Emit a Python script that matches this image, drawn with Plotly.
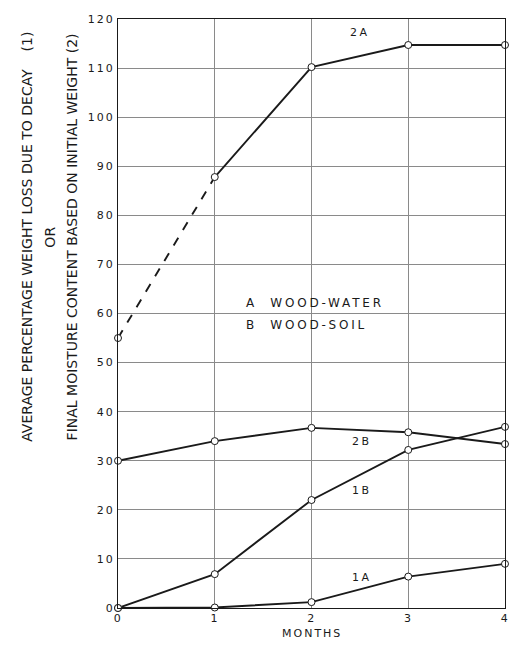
import plotly.graph_objects as go

# Months of exposure
months = [0, 1, 2, 3, 4]

# Curve 1: average percentage weight loss due to decay
loss_A = [0.0, 0.1, 1.2, 6.4, 9.0]      # wood-water
loss_B = [0.0, 6.9, 22.0, 32.2, 36.9]   # wood-soil

# Curve 2: final moisture content based on initial weight
moist_A = [55.0, 87.8, 110.2, 114.7, 114.7]  # wood-water
moist_B = [30.0, 34.0, 36.7, 35.8, 33.4]     # wood-soil

# Curve labels: (text, month, value)
curve_labels = [("2A", 2.5, 117.3), ("2B", 2.52, 33.9), ("1B", 2.52, 24.0), ("1A", 2.52, 6.3)]
legend_lines = ["A  WOOD-WATER", "B  WOOD-SOIL"]
y_ticks = list(range(0, 121, 10))
y_tick_labels = [str(v) for v in y_ticks]
x_tick_labels = [str(m) for m in months]

FONT = "DejaVu Sans"
INK = "#1a1a1a"
W, H = 515, 651
ML, MR, MT, MB = 118, 6, 19, 43
PW = W - ML - MR


def spaced(text, ls):
    """Wrap text in a span with extra letter spacing (wide drafting lettering)."""
    return f'<span style="letter-spacing:{ls}px">{text}</span>'


line_style = dict(color=INK, width=1.9)
marker_style = dict(symbol="circle", size=7, color="white", line=dict(color=INK, width=1))

fig = go.Figure()

# Dashed (extrapolated) first segment of 2A
fig.add_trace(go.Scatter(x=months[:2], y=moist_A[:2], mode="lines",
                         line=dict(color=INK, width=1.9, dash="dash"), cliponaxis=False))
fig.add_trace(go.Scatter(x=months[1:], y=moist_A[1:], mode="lines",
                         line=line_style, cliponaxis=False))
for series in (moist_B, loss_B, loss_A):
    fig.add_trace(go.Scatter(x=months, y=series, mode="lines",
                             line=line_style, cliponaxis=False))
for series in (moist_A, moist_B, loss_B, loss_A):
    fig.add_trace(go.Scatter(x=months, y=series, mode="markers",
                             marker=marker_style, cliponaxis=False))

annotations = []
for text, mx, val in curve_labels:
    annotations.append(dict(x=mx, y=val, text=spaced(text, 2.5), showarrow=False,
                            font=dict(family=FONT, size=11, color=INK)))
for i, text in enumerate(legend_lines):
    annotations.append(dict(x=1.3, y=62.2 - 4.6 * i, text=spaced(text, 2.8), showarrow=False,
                            xanchor="left", font=dict(family=FONT, size=12, color=INK)))

# Rotated y-axis title, three lines
title_lines = [
    ("AVERAGE PERCENTAGE WEIGHT LOSS DUE TO DECAY    (1)", 26),
    ("OR", 49),
    ("FINAL MOISTURE CONTENT BASED ON INITIAL WEIGHT (2)", 71),
]
for text, px in title_lines:
    annotations.append(dict(xref="paper", yref="paper", x=(px - ML) / PW, y=0.63,
                            text=text, textangle=-90, showarrow=False,
                            xanchor="center", yanchor="middle",
                            font=dict(family=FONT, size=14, color=INK)))

annotations.append(dict(xref="paper", yref="paper", x=0.5, y=0, yshift=-25,
                        text=spaced("MONTHS", 2), showarrow=False, yanchor="middle",
                        font=dict(family=FONT, size=11, color=INK)))

tick_font = dict(family=FONT, size=11, color=INK)
fig.update_layout(
    width=W, height=H,
    margin=dict(l=ML, r=MR, t=MT, b=MB),
    paper_bgcolor="white", plot_bgcolor="white",
    showlegend=False,
    annotations=annotations,
    xaxis=dict(range=[0, 4], tickvals=months,
               ticktext=[spaced(t, 1.5) for t in x_tick_labels],
               ticks="", showgrid=True,
               gridcolor="#8a8a8a", gridwidth=1, zeroline=False,
               showline=True, linecolor=INK, linewidth=1.2, mirror=True,
               tickfont=tick_font),
    yaxis=dict(range=[0, 120], tickvals=y_ticks,
               ticktext=[spaced(t, 2) for t in y_tick_labels],
               ticks="", showgrid=True,
               gridcolor="#8a8a8a", gridwidth=1, zeroline=False,
               showline=True, linecolor=INK, linewidth=1.2, mirror=True,
               tickfont=tick_font),
)

fig.write_html("out.html")
